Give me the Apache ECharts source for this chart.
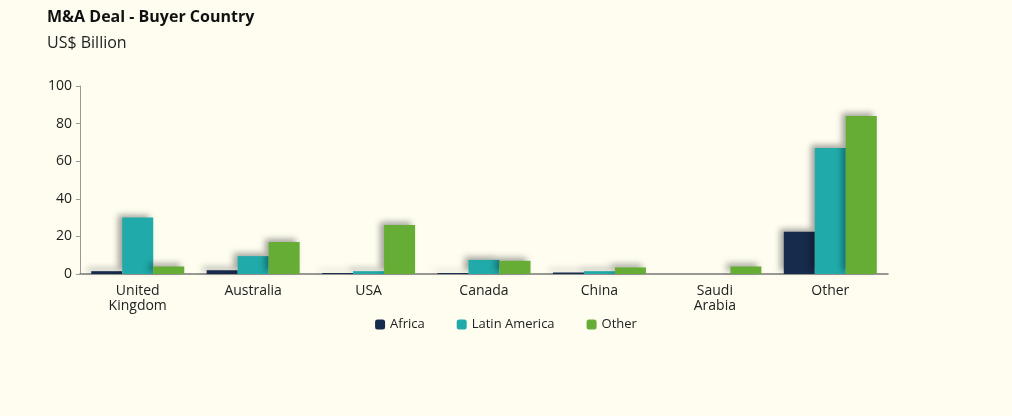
<!DOCTYPE html>
<html><head><meta charset="utf-8">
<script src="https://cdn.jsdelivr.net/npm/echarts@6/dist/echarts.min.js"></script>
<style>html,body{margin:0;background:#fefdf0}#c{width:1012px;height:416px}</style>
</head><body><div id="c"></div>
<script>
const categories = ['United\nKingdom','Australia','USA','Canada','China','Saudi\nArabia','Other'];
const africa = [1.5, 2, 0.5, 0.5, 0.8, 0, 22.5];
const latinAmerica = [30, 9.5, 1.5, 7.5, 1.5, 0, 67];
const other = [4, 17, 26, 7, 3.5, 4, 84];
const yTicks = {min:0, max:100, interval:20};
const font = 'Open Sans';
function s(name, data, color){
  return {name, type:'bar', data, barWidth:31, barGap:'0%',
    itemStyle:{color, shadowColor:'rgba(0,0,0,0.35)', shadowBlur:6, shadowOffsetX:-4, shadowOffsetY:-3}};
}
const chart = echarts.init(document.getElementById('c'));
chart.setOption({
  backgroundColor:'#fefdf0',
  textStyle:{fontFamily:font},
  title:{text:'M&A Deal - Buyer Country', subtext:'US$ Billion', left:42, top:4,
    textStyle:{fontFamily:font, fontSize:16, fontWeight:'bold', color:'#111'},
    subtextStyle:{fontFamily:font, fontSize:16, color:'#222'}, itemGap:10},
  legend:{bottom:80, left:'center', itemWidth:10, itemHeight:10, itemGap:32,
    textStyle:{fontFamily:font, fontSize:13, color:'#222'}, data:['Africa','Latin America','Other']},
  grid:{left:80, right:124, top:86, bottom:142},
  xAxis:{type:'category', data:categories, axisTick:{show:false},
    axisLine:{lineStyle:{color:'#777', width:1.5}},
    axisLabel:{fontFamily:font, fontSize:14, color:'#222', lineHeight:15, margin:10}},
  yAxis:{type:'value', min:yTicks.min, max:yTicks.max, interval:yTicks.interval, splitLine:{show:false},
    axisLine:{show:true, lineStyle:{color:'#999'}}, axisTick:{show:true, length:4, lineStyle:{color:'#999'}},
    axisLabel:{fontFamily:font, fontSize:14, color:'#222', margin:8}},
  series:[s('Africa', africa, '#172b4d'), s('Latin America', latinAmerica, '#20aaaa'), s('Other', other, '#66ad35')]
});
</script></body></html>
